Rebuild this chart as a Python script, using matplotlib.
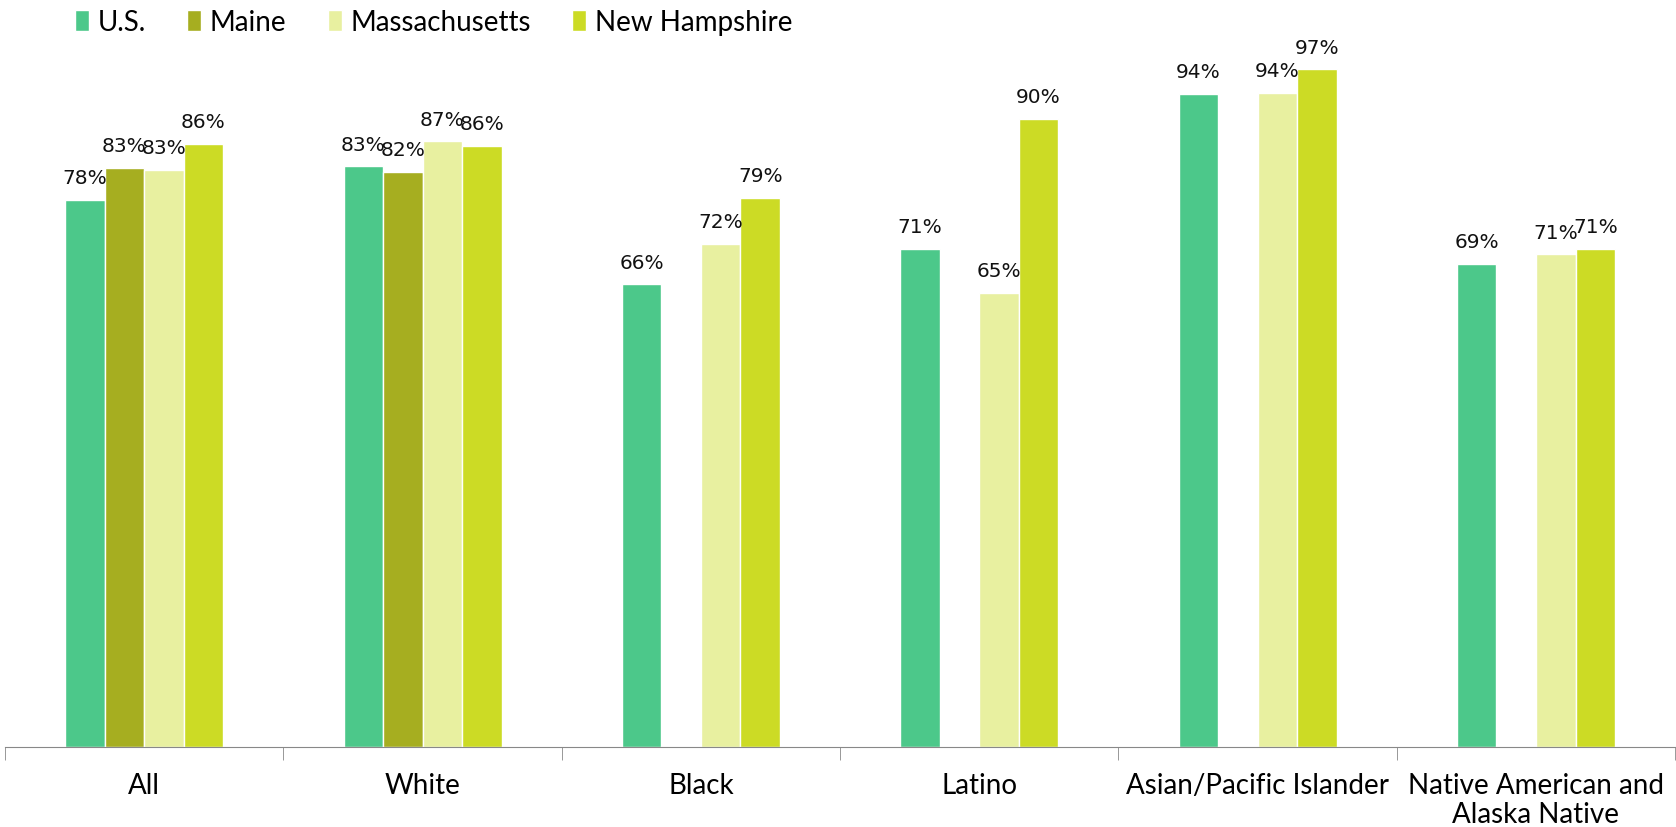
import numpy as np
import matplotlib.pyplot as plt

categories = ['All', 'White', 'Black', 'Latino', 'Asian/Pacific Islander',
              'Native American and\nAlaska Native']
series_names = ['U.S.', 'Maine', 'Massachusetts', 'New Hampshire']
us = [78.4, 83.2, 66.3, 71.4, 93.6, 69.2]
maine = [83.0, 82.4, np.nan, np.nan, np.nan, np.nan]
mass = [82.7, 86.8, 72.1, 65.1, 93.7, 70.6]
nh = [86.4, 86.1, 78.7, 90.0, 97.1, 71.4]
colors = ['#4CC88A', '#A6AE20', '#E8F0A0', '#CCDB25']

fig = plt.figure(figsize=(16.76, 8.28), dpi=100)
ax = fig.add_axes([0.003, 0.0966, 0.9965, 0.843])

x = np.arange(len(categories))
w = 0.142
for i, (vals, col, name) in enumerate(zip([us, maine, mass, nh], colors, series_names)):
    pos = x + (i - 1.5) * w
    ax.bar(pos, vals, w, color=col, edgecolor='white', linewidth=1, label=name)
    for p, v in zip(pos, vals):
        if np.isnan(v):
            continue
        ax.text(p, v + 1.8, f'{round(v):d}%', ha='center', va='bottom',
                fontsize=14.5, family='DejaVu Sans', color='#111111')

ax.set_xlim(-0.5, len(categories) - 0.5)
ax.set_ylim(0, 100)
for s in ['top', 'right', 'left']:
    ax.spines[s].set_visible(False)
ax.spines['bottom'].set_color('#888888')
ax.set_yticks([])
ax.set_xticks(x)
ax.set_xticklabels(categories, fontsize=20, family='Lato', linespacing=1.15)
ax.tick_params(axis='x', which='major', length=0, pad=18)
ax.set_xticks(np.arange(-0.5, len(categories)), minor=True)
ax.tick_params(axis='x', which='minor', length=9, color='#888888')

fig.legend(loc='upper left', bbox_to_anchor=(0.03, 1.018), ncol=4, frameon=False,
           prop={'family': 'Lato', 'size': 20}, handlelength=0.5, handleheight=0.8,
           handletextpad=0.3, columnspacing=1.5)

fig.savefig('out.png', dpi=100)
